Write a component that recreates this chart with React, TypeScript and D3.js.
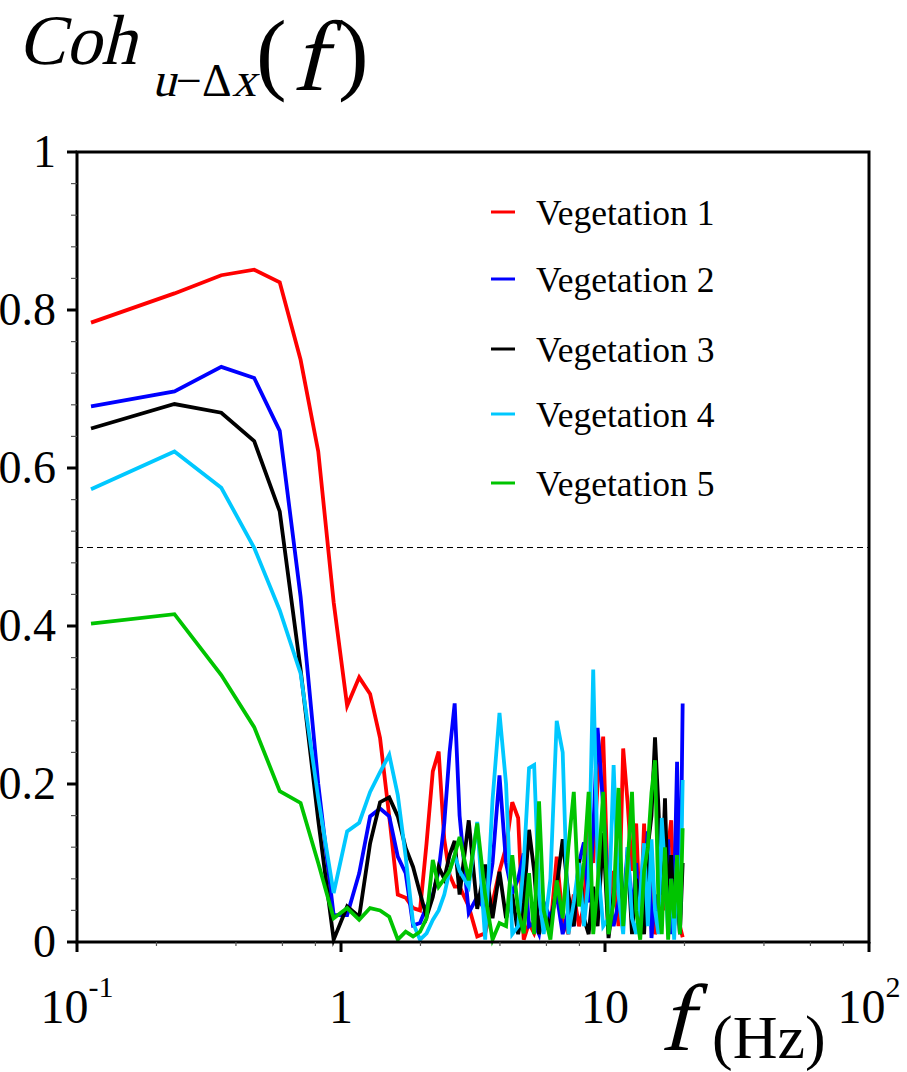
import React from "react";
import * as d3 from "d3";

// frequency (Hz)
const freqs = [
  0.113, 0.234, 0.352, 0.469, 0.586, 0.703, 0.82, 0.938, 1.055, 1.172, 1.289, 1.406,
  1.523, 1.641, 1.758, 1.875, 1.992, 2.109, 2.227, 2.344, 2.461, 2.578, 2.695, 2.813,
  3.047, 3.281, 3.516, 3.75, 3.984, 4.219, 4.453, 4.688, 4.922, 5.156, 5.391, 5.625,
  5.859, 6.211, 6.563, 6.914, 7.266, 7.617, 7.969, 8.32, 8.672, 9.023, 9.375, 9.844,
  10.313, 10.781, 11.25, 11.719, 12.188, 12.656, 13.125, 13.594, 14.063, 14.531, 15.0,
  15.469, 15.938, 16.406, 16.875, 17.344, 17.813, 18.281, 18.75, 19.219, 19.688,
];

const veg1 = [
  0.784, 0.821, 0.844, 0.851, 0.835, 0.737, 0.621, 0.43, 0.299, 0.335,
  0.314, 0.258, 0.159, 0.06, 0.056, 0.043, 0.04, 0.125, 0.216, 0.241,
  0.13, 0.085, 0.07, 0.07, 0.045, 0.007, 0.011, 0.05, 0.09, 0.12,
  0.177, 0.157, 0.003, 0.024, 0.011, 0.03, 0.02, 0.016, 0.108, 0.03,
  0.01, 0.06, 0.02, 0.045, 0.15, 0.1, 0.2, 0.26, 0.04, 0.09,
  0.02, 0.245, 0.175, 0.09, 0.15, 0.02, 0.15, 0.03, 0.08, 0.01,
  0.02, 0.1, 0.04, 0.12, 0.154, 0.03, 0.1, 0.02, 0.006,
];
const veg2 = [
  0.678, 0.697, 0.728, 0.714, 0.647, 0.437, 0.2, 0.034, 0.034, 0.087,
  0.159, 0.169, 0.159, 0.108, 0.087, 0.021, 0.024, 0.045, 0.06, 0.09,
  0.15, 0.24, 0.302, 0.16, 0.037, 0.057, 0.04, 0.1, 0.211, 0.1,
  0.061, 0.08, 0.112, 0.02, 0.024, 0.01, 0.05, 0.03, 0.06, 0.01,
  0.04, 0.02, 0.1, 0.126, 0.05, 0.14, 0.271, 0.171, 0.06, 0.02,
  0.05, 0.04, 0.12, 0.03, 0.1, 0.01, 0.08, 0.14, 0.005, 0.06,
  0.03, 0.15, 0.08, 0.13, 0.01, 0.06, 0.228, 0.01, 0.302,
];
const veg3 = [
  0.65, 0.681, 0.67, 0.634, 0.545, 0.345, 0.154, 0.003, 0.045, 0.032,
  0.125, 0.177, 0.183, 0.159, 0.119, 0.095, 0.062, 0.032, 0.057, 0.095,
  0.08, 0.11, 0.128, 0.06, 0.154, 0.042, 0.098, 0.03, 0.089, 0.03,
  0.06, 0.01, 0.05, 0.142, 0.09, 0.01, 0.04, 0.02, 0.07, 0.13,
  0.06, 0.02, 0.105, 0.03, 0.01, 0.07, 0.02, 0.138, 0.005, 0.06,
  0.1, 0.03, 0.11, 0.01, 0.08, 0.03, 0.01, 0.12, 0.16, 0.259,
  0.171, 0.06, 0.182, 0.04, 0.11, 0.02, 0.07, 0.01, 0.1,
];
const veg4 = [
  0.573, 0.621, 0.575, 0.499, 0.42, 0.34, 0.182, 0.062, 0.14, 0.151,
  0.19, 0.215, 0.237, 0.186, 0.108, 0.024, 0.003, 0.011, 0.028, 0.04,
  0.06, 0.09, 0.11, 0.09, 0.07, 0.152, 0.003, 0.18, 0.29, 0.2,
  0.01, 0.02, 0.1, 0.22, 0.224, 0.06, 0.01, 0.08, 0.28, 0.24,
  0.01, 0.05, 0.1, 0.02, 0.08, 0.345, 0.1, 0.02, 0.03, 0.224,
  0.06, 0.01, 0.12, 0.03, 0.01, 0.06, 0.125, 0.02, 0.13, 0.04,
  0.01, 0.157, 0.09, 0.01, 0.08, 0.003, 0.11, 0.02, 0.205,
];
const veg5 = [
  0.403, 0.415, 0.338, 0.272, 0.191, 0.176, 0.1, 0.03, 0.043, 0.028,
  0.043, 0.04, 0.032, 0.003, 0.013, 0.007, 0.013, 0.03, 0.104, 0.07,
  0.08, 0.09, 0.11, 0.133, 0.078, 0.15, 0.06, 0.003, 0.024, 0.02,
  0.11, 0.04, 0.011, 0.087, 0.01, 0.178, 0.04, 0.003, 0.078, 0.03,
  0.12, 0.19, 0.045, 0.1, 0.19, 0.01, 0.073, 0.19, 0.01, 0.05,
  0.195, 0.02, 0.1, 0.19, 0.04, 0.003, 0.09, 0.12, 0.189, 0.23,
  0.05, 0.01, 0.12, 0.003, 0.08, 0.03, 0.11, 0.01, 0.144,
];

const seriesNames = ["Vegetation 1", "Vegetation 2", "Vegetation 3", "Vegetation 4", "Vegetation 5"];
const seriesValues = [veg1, veg2, veg3, veg4, veg5];
const seriesColors = ["#ff0000", "#0000ff", "#000000", "#00c8ff", "#00c400"];

const yTicks = [0, 0.2, 0.4, 0.6, 0.8, 1];
const yTickLabels = ["0", "0.2", "0.4", "0.6", "0.8", "1"];
const xTicks = [0.1, 1, 10, 100];
const threshold = 0.5;

const FONT = "'Liberation Serif', serif";

// no serif italic face installed: slant the roman face around its anchor
const Slanted = ({ x, y, size, children }: { x: number; y: number; size: number; children: React.ReactNode }) => (
  <text x={x} y={y} fontSize={size} transform={`translate(${x},${y}) skewX(-14) translate(${-x},${-y})`}>
    {children}
  </text>
);

export default function App() {
  const width = 907;
  const height = 1072;
  const margin = { top: 152, right: 38, bottom: 130, left: 77 };

  const x = d3.scaleLog().domain([0.1, 100]).range([margin.left, width - margin.right]);
  const y = d3.scaleLinear().domain([0, 1]).range([height - margin.bottom, margin.top]);

  const line = d3
    .line<number>()
    .x((_, i) => x(freqs[i]))
    .y((d) => y(d));

  const x0 = x.range()[0];
  const x1 = x.range()[1];
  const y0 = y.range()[0];
  const y1 = y.range()[1];

  // minor ticks: 0.04 steps on y, 2,4,6,8 per decade on x
  const yMinor = d3
    .range(0, 25)
    .map((i) => i * 0.04)
    .filter((v) => Math.abs(v / 0.2 - Math.round(v / 0.2)) > 1e-6);
  const xMinor: number[] = [];
  [0.1, 1, 10].forEach((dec) => [2, 4, 6, 8].forEach((m) => xMinor.push(dec * m)));

  return (
    <svg
      width={width}
      height={height}
      style={{ position: "absolute", left: 0, top: 0, background: "#fff" }}
      fontFamily={FONT}
    >
      {/* y axis title */}
      <Slanted x={18} y={64} size={71}>Coh</Slanted>
      <Slanted x={152} y={96} size={48}>u</Slanted>
      <text x={176} y={96} fontSize={46}>−Δ</text>
      <Slanted x={232} y={96} size={48}>x</Slanted>
      <text x={256} y={83} fontSize={92}>(</text>
      <Slanted x={292} y={90} size={100}>f</Slanted>
      <text x={338} y={83} fontSize={92}>)</text>

      {/* threshold */}
      <line
        x1={x0}
        x2={x1}
        y1={y(threshold) + 0.5}
        y2={y(threshold) + 0.5}
        stroke="#000"
        strokeWidth={1}
        strokeDasharray="6,4"
      />

      {/* data */}
      {seriesValues.map((vals, i) => (
        <path key={i} d={line(vals) || ""} fill="none" stroke={seriesColors[i]} strokeWidth={3.8} />
      ))}

      {/* frame */}
      <rect x={x0} y={y1} width={x1 - x0} height={y0 - y1} fill="none" stroke="#000" strokeWidth={3} />

      {/* y ticks */}
      {yTicks.map((t, i) => (
        <g key={"yt" + i}>
          <line x1={x0 - 10} x2={x0} y1={y(t)} y2={y(t)} stroke="#000" strokeWidth={3} />
          <text x={56} y={y(t)} dy="0.33em" fontSize={46} textAnchor="end">{yTickLabels[i]}</text>
        </g>
      ))}
      {yMinor.map((t, i) => (
        <line key={"ym" + i} x1={x0 - 6} x2={x0} y1={y(t)} y2={y(t)} stroke="#555" strokeWidth={1.2} />
      ))}

      {/* x ticks */}
      {xTicks.map((t, i) => (
        <line key={"xt" + i} x1={x(t)} x2={x(t)} y1={y0} y2={y0 + 10} stroke="#000" strokeWidth={3} />
      ))}
      {xMinor.map((t, i) => (
        <line key={"xm" + i} x1={x(t)} x2={x(t)} y1={y0} y2={y0 + 4} stroke="#555" strokeWidth={1.2} />
      ))}
      <text x={x(0.1)} y={1023} fontSize={48} textAnchor="middle">
        10<tspan fontSize={30} dy={-26}>-1</tspan>
      </text>
      <text x={x(1)} y={1023} fontSize={48} textAnchor="middle">1</text>
      <text x={x(10)} y={1023} fontSize={48} textAnchor="middle">10</text>
      <text x={x(100)} y={1023} fontSize={48} textAnchor="middle">
        10<tspan fontSize={30} dy={-26}>2</tspan>
      </text>

      {/* x axis title */}
      <Slanted x={660} y={1050} size={95}>f</Slanted>
      <text x={712} y={1058} fontSize={62}>(Hz)</text>

      {/* legend */}
      {seriesNames.map((name, i) => {
        const ly = [212, 279, 349, 414, 483][i];
        return (
          <g key={"lg" + i}>
            <line x1={491} x2={515} y1={ly} y2={ly} stroke={seriesColors[i]} strokeWidth={3} />
            <text x={536} y={ly + 13} fontSize={35.5}>{name}</text>
          </g>
        );
      })}
    </svg>
  );
}
